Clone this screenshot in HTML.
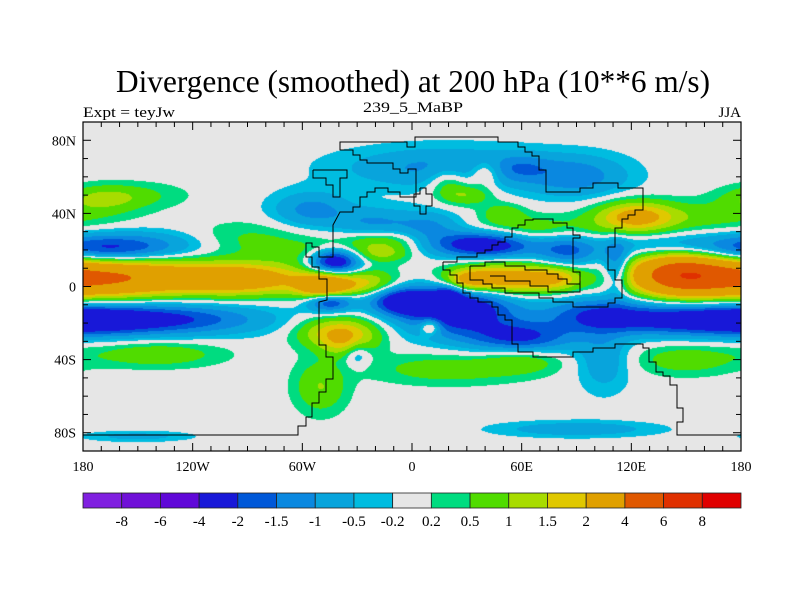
<!DOCTYPE html>
<html><head><meta charset="utf-8">
<style>
html,body{margin:0;padding:0;background:#fff;}
#wrap{position:relative;width:800px;height:600px;overflow:hidden;font-family:"Liberation Serif",serif;}
#field{position:absolute;left:83px;top:122px;}
svg{position:absolute;left:0;top:0;}
</style></head>
<body>
<div id="wrap">
<canvas id="field" width="658" height="329"></canvas>
<svg id="ov" width="800" height="600">
<text x="413" y="92" text-anchor="middle" font-size="32" textLength="594" lengthAdjust="spacingAndGlyphs" font-family="Liberation Serif,serif">Divergence (smoothed) at 200 hPa (10**6 m/s)</text>
<text x="83" y="117" font-size="15" textLength="92" lengthAdjust="spacingAndGlyphs">Expt = teyJw</text>
<text x="413" y="112" text-anchor="middle" font-size="15" textLength="100" lengthAdjust="spacingAndGlyphs">239_5_MaBP</text>
<text x="741" y="117" text-anchor="end" font-size="15">JJA</text>
<g id="coast" fill="none" stroke="#000" stroke-width="1"></g>
<g id="axes"></g>
<g id="cbar"></g>
</svg>
</div>
<script>
// ---- data ----
const levels = [-8,-6,-4,-2,-1.5,-1,-0.5,-0.2,0.2,0.5,1,1.5,2,4,6,8];
const colors = ["#8020e0","#7010d8","#6008d8","#1818d8","#0058d8","#0a88e0","#08a4dc","#00bce0","#e6e6e6","#00dc80","#50dc00","#a8dc00","#e0c800","#e0a000","#e05800","#e03000","#e00000"];
const latTicks = [80,40,0,-40,-80];
const latTickLabels = ["80N","40N","0","40S","80S"];
const lonTicks = [-180,-120,-60,0,60,120,180];
const lonTickLabels = ["180","120W","60W","0","60E","120E","180"];
// blobs: lon, lat, sigmaLon, sigmaLat, amplitude
const blobLon = [-150,-90,-175,-48,-25,145,172,50,30,80,122,160,70,-40,-35,-170,-150,-140,-50,20,60,150,10,-40,-15,-90,20,40,
  -140,-175,150,100,25,20,60,-5,-42,-55,-20,10,-45,40,85,-150,-170,140,20,90,60,-30,90,-150,105,112,
  -15,30,50];
const blobLat = [5,4,5,0,2,7,4,4,3,5,38,38,30,-25,-32,48,50,-37,-55,-45,-40,-40,-22,18,18,25,58,62,
  -18,-18,-18,-15,-12,-5,-28,-8,14,42,35,33,-8,23,20,22,20,22,65,60,65,-36,-78,-82,-40,10,
  25,50,40];
const blobSx = [40,25,30,10,12,18,30,22,8,10,15,30,25,15,10,15,20,25,10,30,15,20,4,20,10,25,8,6,
  40,20,35,20,22,5,20,12,10,15,15,12,9,20,12,30,20,30,40,20,10,5,30,20,10,5,
  15,10,8];
const blobSy = [7,6,7,5,5,8,9,6,4,5,6,6,6,6,5,5,5,5,10,6,5,6,3,5,3,7,6,5,
  6,6,6,7,10,4,6,5,5,7,6,6,4,5,7,6,5,5,8,8,5,5,3,2,12,10,
  4,4,4];
const blobAmp = [2.4,2.3,0.8,3.5,1.5,3.8,1.8,3,1.5,1.2,2.2,0.7,1.0,2,1,0.9,0.5,0.9,1.0,0.8,0.8,0.8,1.6,1.0,0.7,0.7,1.0,1.1,
  -2.2,-0.8,-2.4,-1.5,-3.0,-1.5,-2,-2.5,-3.5,-1.2,-1.0,-1.0,-2.5,-3,-1.6,-1.3,-1.2,-1.0,-1.2,-1.2,-0.6,-1,-0.9,-0.7,-0.9,-1.5,
  0.9,1.0,0.8];

// ---- geometry ----
const X0=83, X1=741, Y0=122, Y1=451;
function xOf(lon){return X0+(lon+180)/360*(X1-X0);}
function yOf(lat){return Y0+(90-lat)/180*(Y1-Y0);}
function hex(c){return [parseInt(c.substr(1,2),16),parseInt(c.substr(3,2),16),parseInt(c.substr(5,2),16)];}

// ---- field ----
const cv=document.getElementById('field');const ctx=cv.getContext('2d');
const W=cv.width,H=cv.height;const img=ctx.createImageData(W,H);
const rgb=colors.map(hex);
for(let py=0;py<H;py++){
  const lat=90-(py+0.5)/H*180;
  for(let px=0;px<W;px++){
    const lon=-180+(px+0.5)/W*360;let v=0;
    for(let k=0;k<blobLon.length;k++){
      let d=lon-blobLon[k];if(d>180)d-=360;if(d<-180)d+=360;
      const e=(d*d)/(2*blobSx[k]*blobSx[k])+((lat-blobLat[k])**2)/(2*blobSy[k]*blobSy[k]);
      if(e<12)v+=blobAmp[k]*Math.exp(-e);
    }
    let i=0;while(i<levels.length&&v>=levels[i])i++;
    const c=rgb[i];const o=(py*W+px)*4;img.data[o]=c[0];img.data[o+1]=c[1];img.data[o+2]=c[2];img.data[o+3]=255;
  }
}
ctx.putImageData(img,0,0);

const NS='http://www.w3.org/2000/svg';
function mk(tag,attrs,parent){const e=document.createElementNS(NS,tag);for(const k in attrs)e.setAttribute(k,attrs[k]);parent.appendChild(e);return e;}

// ---- coastlines (pixel outlines) ----
const coastLines=[
"83,435 298,435 298,426 306,426 306,417 312,417 312,403 319,403 319,392 326,392 326,379 333,379 333,357 326,357 326,345 319,345 319,302 327,300 327,279 319,279 319,267 312,267 312,257 306,257 306,243 312,243 312,247 319,247 319,257 333,257 333,225 340,212 353,212 353,207 360,207 360,197 367,197 367,192 375,192 375,188 388,188 388,192 400,192 400,197 416,197 416,169 408,169 408,173 400,173 400,169 393,169 393,163 367,163 367,160 360,160 360,155 353,155 353,150 340,150 340,142 407,142 407,147 415,147 415,137 498,137 498,142 518,142 518,147 525,147 525,152 532,152 532,156 539,156 539,170 546,170 546,192 580,192 580,188 593,188 593,183 618,183 618,188 643,188 643,210 635,210 635,215 628,215 628,219 622,219 622,228 615,228 615,247 608,247 608,270 615,270 615,280 622,280 622,298 615,298 615,303 608,303 608,307 573,307 573,302 553,302 553,298 539,298 539,293 505,293 505,288 492,288 492,284 483,284 483,280 470,280 470,266",
"313,170 347,170 347,178 340,178 340,197 333,197 333,185 326,185 326,178 313,178 313,170",
"443,262 457,262 457,257 477,257 477,253 485,253 485,250 492,250 492,245 498,245 498,242 505,242 505,237 512,237 512,228 518,228 518,225 525,225 525,220 533,220 533,219 553,219 553,223 567,223 567,228 573,228 573,235 580,235 580,238 573,238 573,272 580,272 580,284",
"470,266 485,266 485,262 505,262 505,266 525,266 525,270 547,270 547,274 558,274 558,279 567,279 567,284 580,284 580,292 548,292 548,286 530,286 530,281 505,281 505,276 490,276",
"443,262 443,270 450,270 450,275 457,275 457,283 463,283 463,293 470,293 470,298 478,298 478,302 492,302 492,307 498,307 498,315 505,315 505,320 512,320 512,344 518,344 518,352 533,352 533,357 573,357 573,352 593,352 593,348 615,348 615,344 643,344 643,348 649,348 649,362 656,362 656,372 663,372 663,376 670,376 670,385 677,385 677,408 683,408 683,422 677,422 677,435 741,435",
"420,188 426,188 426,194 432,194 432,206 426,206 426,214 420,214 420,206 414,206 414,194 420,194 420,188"
];
const cg=document.getElementById('coast');
coastLines.forEach((p,i)=>{const e=mk('polyline',{points:p},cg);});

// ---- axes ----
const ax=document.getElementById('axes');
const fr=mk('rect',{x:X0,y:Y0,width:X1-X0,height:Y1-Y0,fill:'none',stroke:'#000','stroke-width':1.2},ax);

for(let lat=-90;lat<=90;lat+=10){const y=yOf(lat);const maj=lat%40===0;const L=maj?8:5;
  mk('line',{x1:X0,x2:X0+L,y1:y,y2:y,stroke:'#000'},ax);mk('line',{x1:X1,x2:X1-L,y1:y,y2:y,stroke:'#000'},ax);}
for(let lon=-180;lon<=180;lon+=10){const x=xOf(lon);const L=lon%60===0?8:5;
  mk('line',{x1:x,x2:x,y1:Y1,y2:Y1-L,stroke:'#000'},ax);mk('line',{x1:x,x2:x,y1:Y0,y2:Y0+L,stroke:'#000'},ax);}
latTicks.forEach((lat,i)=>{const t=mk('text',{x:X0-7,y:yOf(lat)+5,'text-anchor':'end','font-size':14},ax);t.textContent=latTickLabels[i];
  });
lonTicks.forEach((lon,i)=>{const t=mk('text',{x:xOf(lon),y:471,'text-anchor':'middle','font-size':14},ax);t.textContent=lonTickLabels[i];
  });

// ---- colorbar ----
const cb=document.getElementById('cbar');const CBX0=83,CBX1=741,CBY=493,CBH=15;const bw=(CBX1-CBX0)/colors.length;
colors.forEach((c,i)=>{const r=mk('rect',{x:CBX0+i*bw,y:CBY,width:bw,height:CBH,fill:c,stroke:'#222','stroke-width':0.8},cb);
  });
levels.forEach((l,i)=>{const t=mk('text',{x:CBX0+(i+1)*bw,y:CBY+CBH+18,'text-anchor':'middle','font-size':15},cb);t.textContent=String(l);
  });
</script>
</body></html>
